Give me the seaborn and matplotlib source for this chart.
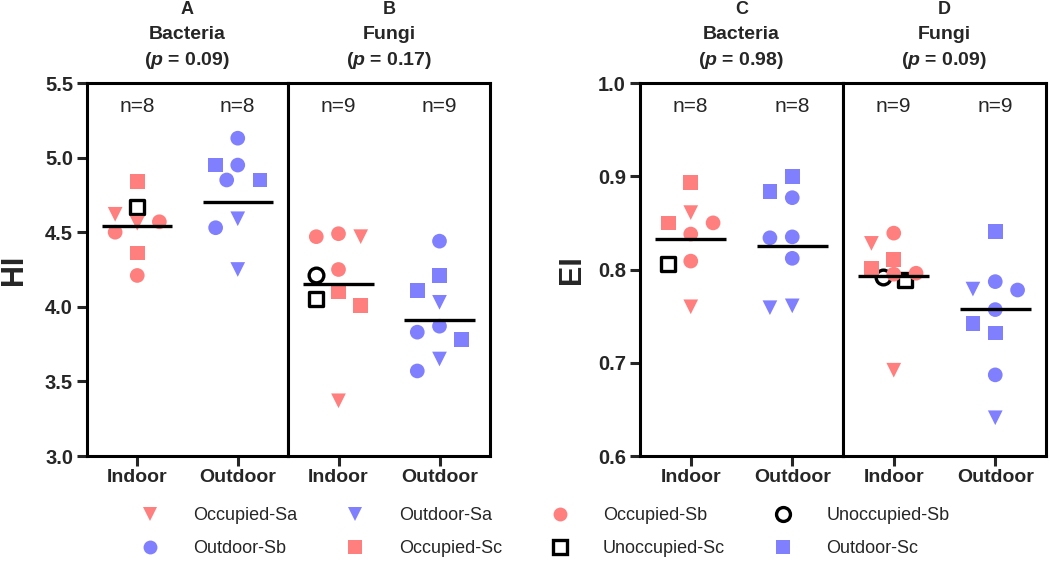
import numpy as np
import pandas as pd
import matplotlib
matplotlib.use("Agg")
import matplotlib.pyplot as plt
import matplotlib.transforms as mtransforms
from matplotlib.lines import Line2D
import seaborn as sns

# ---------------- data ----------------
locations = ["Indoor", "Outdoor"]
panel_letters = ["A", "B", "C", "D"]
panel_taxa = ["Bacteria", "Fungi", "Bacteria", "Fungi"]
panel_pvals = ["0.09", "0.17", "0.98", "0.09"]
panel_n = [[8, 8], [9, 9], [8, 8], [9, 9]]

a_indoor_vals = [4.84, 4.67, 4.62, 4.56, 4.57, 4.50, 4.36, 4.21]
a_indoor_grps = ["Occupied-Sc", "Unoccupied-Sc", "Occupied-Sa", "Occupied-Sa",
                 "Occupied-Sb", "Occupied-Sb", "Occupied-Sc", "Occupied-Sb"]
a_outdoor_vals = [5.13, 4.95, 4.95, 4.85, 4.85, 4.59, 4.53, 4.25]
a_outdoor_grps = ["Outdoor-Sb", "Outdoor-Sb", "Outdoor-Sc", "Outdoor-Sc",
                  "Outdoor-Sb", "Outdoor-Sa", "Outdoor-Sb", "Outdoor-Sa"]

b_indoor_vals = [4.47, 4.47, 4.49, 4.25, 4.21, 4.10, 4.05, 4.01, 3.37]
b_indoor_grps = ["Occupied-Sb", "Occupied-Sa", "Occupied-Sb", "Occupied-Sb",
                 "Unoccupied-Sb", "Occupied-Sc", "Unoccupied-Sc", "Occupied-Sc",
                 "Occupied-Sa"]
b_outdoor_vals = [4.44, 4.21, 4.11, 4.03, 3.83, 3.87, 3.78, 3.65, 3.57]
b_outdoor_grps = ["Outdoor-Sb", "Outdoor-Sc", "Outdoor-Sc", "Outdoor-Sa",
                  "Outdoor-Sb", "Outdoor-Sb", "Outdoor-Sc", "Outdoor-Sa",
                  "Outdoor-Sb"]

c_indoor_vals = [0.893, 0.861, 0.850, 0.850, 0.838, 0.809, 0.806, 0.760]
c_indoor_grps = ["Occupied-Sc", "Occupied-Sa", "Occupied-Sc", "Occupied-Sb",
                 "Occupied-Sb", "Occupied-Sb", "Unoccupied-Sc", "Occupied-Sa"]
c_outdoor_vals = [0.900, 0.884, 0.877, 0.834, 0.835, 0.812, 0.761, 0.759]
c_outdoor_grps = ["Outdoor-Sc", "Outdoor-Sc", "Outdoor-Sb", "Outdoor-Sb",
                  "Outdoor-Sb", "Outdoor-Sb", "Outdoor-Sa", "Outdoor-Sa"]

d_indoor_vals = [0.839, 0.828, 0.811, 0.801, 0.796, 0.795, 0.792, 0.789, 0.692]
d_indoor_grps = ["Occupied-Sb", "Occupied-Sa", "Occupied-Sc", "Occupied-Sc",
                 "Occupied-Sb", "Occupied-Sb", "Unoccupied-Sb", "Unoccupied-Sc",
                 "Occupied-Sa"]
d_outdoor_vals = [0.841, 0.787, 0.779, 0.778, 0.757, 0.742, 0.732, 0.687, 0.641]
d_outdoor_grps = ["Outdoor-Sc", "Outdoor-Sb", "Outdoor-Sa", "Outdoor-Sb",
                  "Outdoor-Sb", "Outdoor-Sc", "Outdoor-Sc", "Outdoor-Sb",
                  "Outdoor-Sa"]

# horizontal bar (center line) drawn in each group
a_center = [4.54, 4.70]
b_center = [4.15, 3.91]
c_center = [0.833, 0.825]
d_center = [0.793, 0.758]

legend_order = ["Occupied-Sa", "Outdoor-Sa", "Occupied-Sb", "Unoccupied-Sb",
                "Outdoor-Sb", "Occupied-Sc", "Unoccupied-Sc", "Outdoor-Sc"]

# ---------------- styles ----------------
RED = "#FF7F7F"
BLUE = "#8080FF"
STYLE = {
    "Occupied-Sa":   dict(marker="v", face=RED, edge="none", lw=0),
    "Outdoor-Sa":    dict(marker="v", face=BLUE, edge="none", lw=0),
    "Occupied-Sb":   dict(marker="o", face=RED, edge="none", lw=0),
    "Unoccupied-Sb": dict(marker="o", face="white", edge="black", lw=2.4),
    "Outdoor-Sb":    dict(marker="o", face=BLUE, edge="none", lw=0),
    "Occupied-Sc":   dict(marker="s", face=RED, edge="none", lw=0),
    "Unoccupied-Sc": dict(marker="s", face="white", edge="black", lw=2.4),
    "Outdoor-Sc":    dict(marker="s", face=BLUE, edge="none", lw=0),
}
DRAW_ORDER = ["Unoccupied-Sb", "Unoccupied-Sc", "Occupied-Sa", "Outdoor-Sa",
              "Occupied-Sb", "Outdoor-Sb", "Occupied-Sc", "Outdoor-Sc"]

rows = []
panel_data = {
    "A": [(a_indoor_vals, a_indoor_grps), (a_outdoor_vals, a_outdoor_grps)],
    "B": [(b_indoor_vals, b_indoor_grps), (b_outdoor_vals, b_outdoor_grps)],
    "C": [(c_indoor_vals, c_indoor_grps), (c_outdoor_vals, c_outdoor_grps)],
    "D": [(d_indoor_vals, d_indoor_grps), (d_outdoor_vals, d_outdoor_grps)],
}
panel_centers = {"A": a_center, "B": b_center, "C": c_center, "D": d_center}
for p, groups in panel_data.items():
    for li, (vals, grps) in enumerate(groups):
        for v, g in zip(vals, grps):
            rows.append(dict(panel=p, loc=locations[li], li=li, group=g, value=v))
df = pd.DataFrame(rows)

# ---------------- theme ----------------
sns.set_style("white")
plt.rcParams["font.family"] = ["Liberation Sans", "DejaVu Sans"]
plt.rcParams["font.weight"] = "bold"
plt.rcParams["mathtext.fontset"] = "custom"
plt.rcParams["mathtext.it"] = "Liberation Sans:italic:bold"
plt.rcParams["mathtext.rm"] = "Liberation Sans:bold"

fig = plt.figure(figsize=(10.5, 5.85), dpi=100)
bottom, height = 1 - 456 / 585, 373 / 585
axes_rect = {
    "A": [87 / 1050, bottom, 201 / 1050, height],
    "B": [288 / 1050, bottom, 202 / 1050, height],
    "C": [640 / 1050, bottom, 203 / 1050, height],
    "D": [843 / 1050, bottom, 203 / 1050, height],
}
ylims = {"A": (3.0, 5.5), "B": (3.0, 5.5), "C": (0.6, 1.0), "D": (0.6, 1.0)}
yticks = {"A": np.arange(3.0, 5.51, 0.5), "C": np.arange(0.6, 1.001, 0.1)}
ylabels = {"A": "HI", "C": "EI"}
ylabel_x = {"A": -0.29, "C": -0.26}

MS = 112  # marker area (pt^2)
LANE = 0.22
XTHR = 0.15


def swarm_offsets(values, ythr):
    order = sorted(range(len(values)), key=lambda i: -values[i])
    placed = []
    offs = [0.0] * len(values)
    cands = [0.0, -LANE, LANE, -LANE / 2, LANE / 2]
    for i in order:
        y = values[i]
        chosen, fallback, best_score = None, 0.0, -1
        for c in cands:
            ok = all(not (abs(c - px) < XTHR and abs(y - py) < ythr) for px, py in placed)
            if ok:
                chosen = c
                break
            score = min(np.hypot((c - px) / XTHR, (y - py) / ythr) for px, py in placed)
            if score > best_score:
                best_score, fallback = score, c
        if chosen is None:
            chosen = fallback
        offs[i] = chosen
        placed.append((chosen, y))
    return offs


for pi, p in enumerate(panel_letters):
    ax = fig.add_axes(axes_rect[p])
    y0, y1 = ylims[p]
    ax.set_xlim(-0.5, 1.5)
    ax.set_ylim(y0, y1)
    ythr = 15.5 * (y1 - y0) / 373.0
    sub = df[df.panel == p].copy()
    xs = np.zeros(len(sub))
    for li in range(2):
        mask = (sub.li == li).values
        offs = swarm_offsets(list(sub.value.values[mask]), ythr)
        xs[mask] = li + np.array(offs)
    sub["x"] = xs
    for zi, g in enumerate(DRAW_ORDER):
        gd = sub[sub.group == g]
        if gd.empty:
            continue
        st = STYLE[g]
        sns.scatterplot(data=gd, x="x", y="value", marker=st["marker"], s=MS,
                        color=st["face"], edgecolor=st["edge"], linewidth=st["lw"],
                        ax=ax, legend=False, zorder=3 + zi * 0.01)
    # center lines
    for li, cval in enumerate(panel_centers[p]):
        ax.hlines(cval, li - 0.35, li + 0.35, color="black", lw=2.4, zorder=6)
    # n labels
    trans = mtransforms.blended_transform_factory(ax.transData, ax.transAxes)
    for li in range(2):
        ax.text(li, 0.936, f"n={panel_n[pi][li]}", transform=trans, ha="center",
                va="center", fontsize=15, fontweight="normal")
    # titles
    ax.annotate(p, (0.5, 1), xycoords="axes fraction", xytext=(0, 53),
                textcoords="offset points", ha="center", va="center", fontsize=13)
    ax.annotate(panel_taxa[pi], (0.5, 1), xycoords="axes fraction", xytext=(0, 35),
                textcoords="offset points", ha="center", va="center", fontsize=14)
    ax.annotate("(" + r"$\it{p}$" + f" = {panel_pvals[pi]})", (0.5, 1),
                xycoords="axes fraction", xytext=(0, 16), textcoords="offset points",
                ha="center", va="center", fontsize=14)
    # axes styling
    for s in ax.spines.values():
        s.set_linewidth(2.2)
        s.set_color("black")
        s.set_visible(True)
    ax.set_xticks([0, 1])
    ax.set_xticklabels(locations)
    ax.set_xlabel("")
    if p in yticks:
        ax.set_yticks(yticks[p])
        ax.set_yticklabels([f"{t:.1f}" for t in yticks[p]])
        ax.set_ylabel(ylabels[p], fontsize=22, fontweight="bold")
        ax.yaxis.set_label_coords(ylabel_x[p], 0.5)
        ax.tick_params(axis="y", left=True, length=7, width=2.2, labelsize=14.5,
                       pad=3, direction="out")
    else:
        ax.set_yticks([])
        ax.set_ylabel("")
    ax.tick_params(axis="x", bottom=True, length=7, width=2.2, labelsize=14,
                   pad=2, direction="out")
    ax.grid(False)

# ---------------- legend ----------------
handles = {}
for g in legend_order:
    st = STYLE[g]
    handles[g] = Line2D([], [], linestyle="none", marker=st["marker"], markersize=10,
                        markerfacecolor=st["face"],
                        markeredgecolor=st["edge"] if st["edge"] != "none" else st["face"],
                        markeredgewidth=st["lw"] if st["lw"] else 0)
# matplotlib fills legend columns first; reorder so rows read like the reference
ncol = 4
rows_n = 2
col_major = [legend_order[r * ncol + c] for c in range(ncol) for r in range(rows_n)]
leg = fig.legend([handles[g] for g in col_major], col_major, loc="center",
                 bbox_to_anchor=(0.515, 0.090), ncol=ncol, frameon=False,
                 prop={"weight": "normal", "size": 13}, handlelength=2,
                 handletextpad=1.4, columnspacing=2.2, labelspacing=0.9)

fig.savefig("out.png", dpi=100)
